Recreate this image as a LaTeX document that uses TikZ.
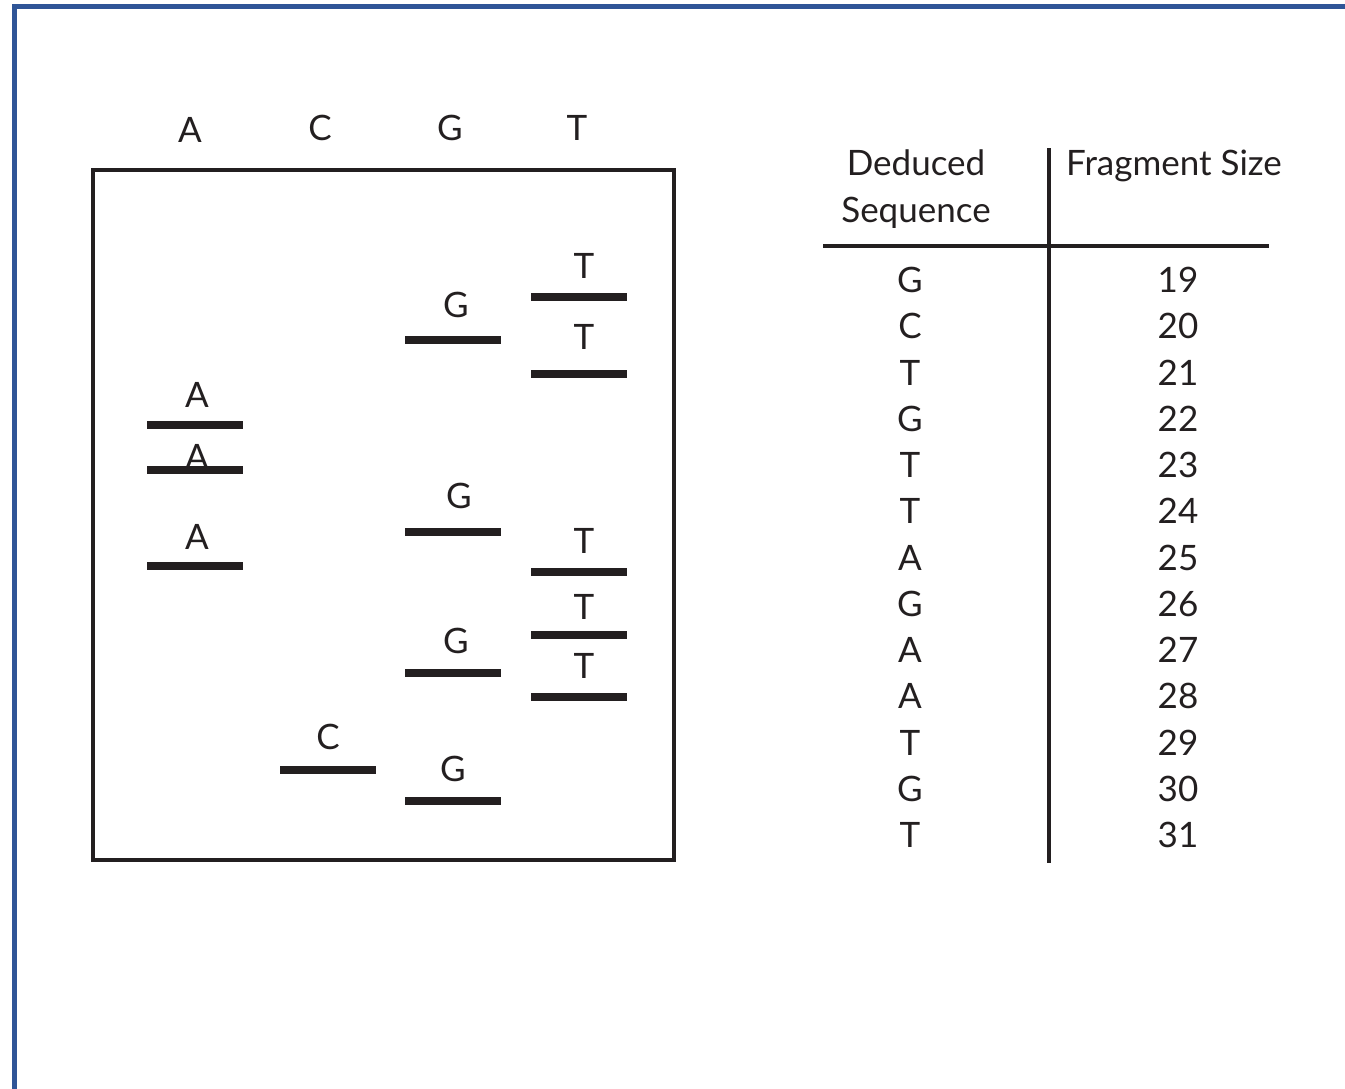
\documentclass[tikz,border=0pt]{standalone}
\usepackage{fontspec}
\setmainfont{Lato}
\definecolor{frameblue}{RGB}{47,85,151}
\definecolor{inkgray}{RGB}{35,31,32}
\begin{document}
\begin{tikzpicture}[x=1pt, y=-1pt, font=\fontsize{35}{42}\selectfont, inkgray,
  band/.style={fill=inkgray, minimum width=96pt, minimum height=8pt, inner sep=0pt},
  lbl/.style={inner sep=0pt}]
\useasboundingbox (0,0) rectangle (1345,1088);
% outer frame (left and top edges only)
\draw[frameblue, line width=5pt] (14,1095) -- (14,6.5) -- (1350,6.5);
% gel
\draw[line width=3.5pt] (93,170) rectangle (674,860);
\node[lbl] (colA) at (190,130) {A};
\node[lbl] (colC) at (320,128) {C};
\node[lbl] (colG) at (450,128) {G};
\node[lbl] (colT) at (577,128) {T};
% A lane
\node[band] (a1) at (195,425) {};
\node[band] (a2) at (195,470) {};
\node[band] (a3) at (195,566) {};
\node[lbl] (la1) at (197,395) {A};
\node[lbl] (la2) at (197,457) {A};
\node[lbl] (la3) at (197,537) {A};
% C lane
\node[band] (c1) at (328,770) {};
\node[lbl] (lc1) at (328,737) {C};
% G lane
\node[band] (g1) at (453,340) {};
\node[band] (g2) at (453,532) {};
\node[band] (g3) at (453,673) {};
\node[band] (g4) at (453,801) {};
\node[lbl] (lg1) at (456,305) {G};
\node[lbl] (lg2) at (459,496) {G};
\node[lbl] (lg3) at (456,641) {G};
\node[lbl] (lg4) at (453,769) {G};
% T lane
\node[band] (t1) at (579,297) {};
\node[band] (t2) at (579,374) {};
\node[band] (t3) at (579,572) {};
\node[band] (t4) at (579,635) {};
\node[band] (t5) at (579,697) {};
\node[lbl] (lt1) at (584,266) {T};
\node[lbl] (lt2) at (584,337) {T};
\node[lbl] (lt3) at (584,541) {T};
\node[lbl] (lt4) at (584,607) {T};
\node[lbl] (lt5) at (584,666) {T};
% table
\draw[line width=3.5pt] (823,246) -- (1269,246);
\draw[line width=3.5pt] (1049,148) -- (1049,863);
\node[anchor=base] (hdseq1) at (916,175) {Deduced};
\node[anchor=base] (hdseq2) at (916,222) {Sequence};
\node[anchor=base] (hdsize) at (1174,175) {Fragment Size};
\node[lbl] (s19) at (910,280) {G};      \node[lbl] (n19) at (1178,280) {19};
\node[lbl] (s20) at (910,326.25) {C};   \node[lbl] (n20) at (1178,326.25) {20};
\node[lbl] (s21) at (910,372.5) {T};    \node[lbl] (n21) at (1178,372.5) {21};
\node[lbl] (s22) at (910,418.75) {G};   \node[lbl] (n22) at (1178,418.75) {22};
\node[lbl] (s23) at (910,465) {T};      \node[lbl] (n23) at (1178,465) {23};
\node[lbl] (s24) at (910,511.25) {T};   \node[lbl] (n24) at (1178,511.25) {24};
\node[lbl] (s25) at (910,557.5) {A};    \node[lbl] (n25) at (1178,557.5) {25};
\node[lbl] (s26) at (910,603.75) {G};   \node[lbl] (n26) at (1178,603.75) {26};
\node[lbl] (s27) at (910,650) {A};      \node[lbl] (n27) at (1178,650) {27};
\node[lbl] (s28) at (910,696.25) {A};   \node[lbl] (n28) at (1178,696.25) {28};
\node[lbl] (s29) at (910,742.5) {T};    \node[lbl] (n29) at (1178,742.5) {29};
\node[lbl] (s30) at (910,788.75) {G};   \node[lbl] (n30) at (1178,788.75) {30};
\node[lbl] (s31) at (910,835) {T};      \node[lbl] (n31) at (1178,835) {31};
\end{tikzpicture}
\end{document}
